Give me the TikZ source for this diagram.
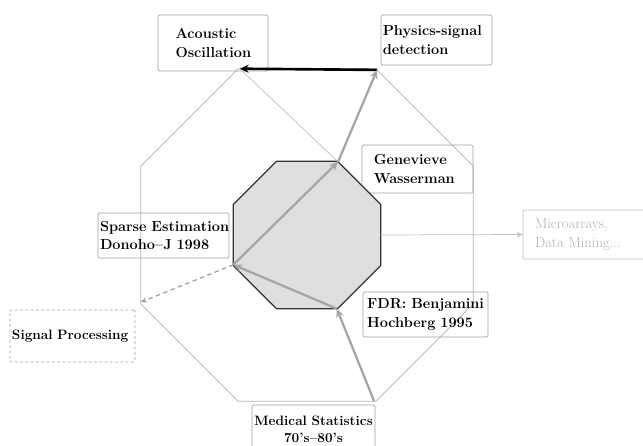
\documentclass[tikz,border=0pt]{standalone}
\usetikzlibrary{shapes.geometric, arrows.meta}

\tikzset{
  histbox/.style={draw=gray!75, rounded corners=1.5pt, line width=0.8pt, align=left,
    font=\fontsize{16.5}{21.5}\selectfont\bfseries, inner ysep=0pt},
  octagon/.style={regular polygon, regular polygon sides=8, inner sep=0pt, outer sep=0pt},
  histarrow/.style={draw=gray!70, line width=2.6pt, -{Stealth[length=10pt,width=9pt]}},
  blackarrow/.style={draw=black, line width=3pt, -{Stealth[length=10pt,width=9pt]}},
  thinline/.style={draw=gray!50, line width=0.8pt},
}

\begin{document}
\begin{tikzpicture}[scale=1]
  \useasboundingbox (0,0) rectangle (25.72,17.84);

  % --- Outer octagon ---
  \node[octagon, draw=gray!60, line width=0.8pt, minimum size=14.4cm] (outer) at (12.28,8.44) {};

  % --- Boxes ---
  \node[histbox, text width=3.0cm, inner xsep=0.7cm, minimum height=2.24cm] (acoustic) at (8.52,16.12) {\mbox{Acoustic}\\\mbox{Oscillation}};
  \node[histbox, text width=4.3cm, inner xsep=0.07cm, minimum height=2.0cm] (physics) at (17.46,16.24) {\mbox{Physics-signal}\\\mbox{detection}};
  \node[histbox, text width=3.5cm, inner xsep=0.47cm, minimum height=1.92cm] (genevieve) at (16.7,11.08) {\mbox{Genevieve}\\\mbox{Wasserman}};
  \node[histbox, text width=5.08cm, inner xsep=0.08cm, minimum height=1.8cm] (sparse) at (6.54,8.42) {\mbox{Sparse Estimation}\\\mbox{Donoho--J 1998}};
  \node[histbox, text width=4.68cm, inner xsep=0.16cm, minimum height=1.8cm] (fdr) at (17.02,5.26) {\mbox{FDR: Benjamini}\\\mbox{Hochberg 1995}};
  \node[histbox, align=center, text width=4.8cm, inner xsep=0.06cm, minimum height=1.92cm, font=\fontsize{15.5}{19.5}\selectfont\bfseries] (medical) at (12.54,0.68) {\mbox{Medical Statistics}\\\mbox{70's--80's}};
  \node[histbox, dashed, text width=4.84cm, inner xsep=0.08cm, minimum height=2.08cm, font=\fontsize{15.5}{19.5}\selectfont\bfseries] (signal) at (2.9,4.4) {\mbox{Signal Processing}};
  \node[histbox, draw=gray!50, text=gray!60, font=\fontsize{16.5}{21.5}\selectfont, text width=4.12cm, inner xsep=0.48cm, minimum height=1.96cm] (micro) at (23.46,8.46) {\mbox{Microarrays,}\\\mbox{Data Mining...}};

  % --- Inner octagon ---
  \node[octagon, draw=black!80, fill=gray!25, line width=1.4pt, minimum size=6.38cm] (inner) at (12.28,8.44) {};

  % --- Connectors ---
  \draw[thinline] (outer.112.5) -- (inner.67.5);
  \draw[blackarrow] (outer.67.5) -- (outer.112.5);
  \draw[histarrow] (inner.67.5) -- (outer.67.5);
  \draw[histarrow] (inner.202.5) -- (inner.67.5);
  \draw[histarrow] (inner.292.5) -- (inner.202.5);
  \draw[histarrow] (outer.292.5) -- (inner.292.5);
  \draw[draw=gray!75, line width=1.4pt, dash pattern=on 5pt off 4pt, -{Stealth[length=7pt,width=6pt]}] (inner.202.5) -- (outer.202.5);
  \draw[thinline, -{Stealth[length=7pt,width=6pt]}] (inner.0) -- (micro.west);

\end{tikzpicture}
\end{document}
